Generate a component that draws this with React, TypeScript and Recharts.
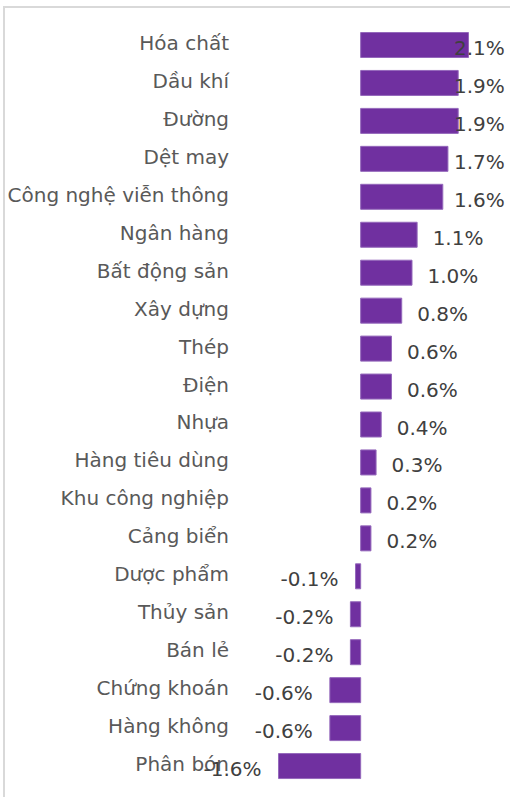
import React from "react";
import { BarChart, Bar, XAxis, YAxis, LabelList } from "recharts";

const sectors = [
  "Hóa chất", "Dầu khí", "Đường", "Dệt may", "Công nghệ viễn thông",
  "Ngân hàng", "Bất động sản", "Xây dựng", "Thép", "Điện",
  "Nhựa", "Hàng tiêu dùng", "Khu công nghiệp", "Cảng biển", "Dược phẩm",
  "Thủy sản", "Bán lẻ", "Chứng khoán", "Hàng không", "Phân bón",
];
const changes = [
  2.1, 1.9, 1.9, 1.7, 1.6,
  1.1, 1.0, 0.8, 0.6, 0.6,
  0.4, 0.3, 0.2, 0.2, -0.1,
  -0.2, -0.2, -0.6, -0.6, -1.6,
];

const data = sectors.map((name, i) => ({ name, value: changes[i] }));

const FONT = "'DejaVu Sans', Verdana, sans-serif";

const SectorTick = ({ x, y, payload }: any) => (
  <text x={x} y={y + 4.5} textAnchor="end" fill="#595959"
        fontSize={20} fontFamily={FONT}>
    {payload.value}
  </text>
);

const ValueLabel = ({ x, y, width, height, value }: any) => {
  const left = Math.min(x, x + width);
  const right = Math.max(x, x + width);
  const pos = value >= 0;
  const tx = pos ? Math.min(right + 15.5, 454) : left - 17;
  return (
    <text x={tx} y={y + height / 2 + 10} textAnchor={pos ? "start" : "end"}
          fill="#404040" fontSize={20} fontFamily={FONT}>
      {Number(value).toFixed(1)}%
    </text>
  );
};

export default function App() {
  return (
    <div style={{ position: "absolute", left: 0, top: 0, width: 510, height: 797,
                  background: "#fff", overflow: "hidden" }}>
      <div style={{ position: "absolute", left: 3, top: 6, width: 600, height: 900,
                    borderLeft: "2px solid #d9d9d9", borderTop: "2px solid #d9d9d9" }} />
      <BarChart width={510} height={797} data={data} layout="vertical"
                margin={{ top: 26.5, right: 21, bottom: 11.5, left: 0 }}>
        <XAxis type="number" domain={[-2, 2.5]} hide />
        <YAxis type="category" dataKey="name" width={258} tickLine={false}
               axisLine={false} tickMargin={23} tick={<SectorTick />}
               interval={0} />
        <Bar dataKey="value" fill="#7030A0" stroke="#9468bb" strokeWidth={1}
             barSize={25} isAnimationActive={false}>
          <LabelList dataKey="value" content={<ValueLabel />} />
        </Bar>
      </BarChart>
    </div>
  );
}
